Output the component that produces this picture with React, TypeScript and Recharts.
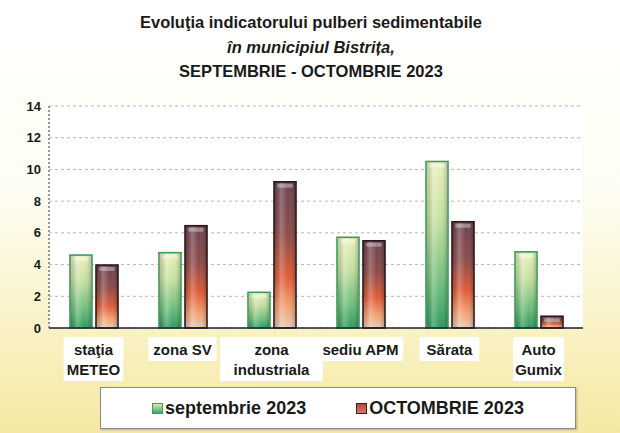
import { BarChart, Bar, XAxis, YAxis, CartesianGrid } from "recharts";

const categories = ["staţia\nMETEO", "zona SV", "zona\nindustriala", "sediu APM", "Sărata", "Auto\nGumix"];
const septembrie = [4.6, 4.75, 2.25, 5.72, 10.5, 4.8];
const octombrie = [3.97, 6.45, 9.22, 5.5, 6.7, 0.74];
const yTicks = [0, 2, 4, 6, 8, 10, 12, 14];
const seriesNames = ["septembrie 2023", "OCTOMBRIE 2023"];
const titleLines = [
  "Evoluţia indicatorului pulberi sedimentabile",
  "în municipiul Bistrița,",
  "SEPTEMBRIE - OCTOMBRIE 2023",
];

const data = categories.map((name, i) => ({ name, sep: septembrie[i], oct: octombrie[i] }));

const FONT = "'Liberation Sans', Arial, sans-serif";

function GlassBar(props: any) {
  const { x, y, width, height, gradId, stroke } = props;
  if (!height || height <= 0) return null;
  return (
    <g>
      <rect x={x} y={y} width={width} height={height} fill={`url(#${gradId})`} stroke={stroke} strokeWidth={1.6} />
      <rect x={x + 1} y={y + 1} width={Math.max(width - 2, 0)} height={Math.max(height - 2, 0)} fill="url(#shine)" />
      {height > 8 && (
        <rect x={x + 3} y={y + 2} width={width - 6} height={4} rx={2} fill="#ffffff" opacity={0.35} />
      )}
    </g>
  );
}

function CategoryTick(props: any) {
  const { x, y, payload } = props;
  const lines = String(payload.value).split("\n");
  const w = Math.max(...lines.map((l) => l.length)) * 8.6 + 8;
  const h = lines.length * 20 + 4;
  return (
    <g>
      <rect x={x - w / 2} y={y + 1} width={w} height={h} fill="#ffffff" />
      {lines.map((l, i) => (
        <text
          key={i}
          x={x}
          y={y + 19 + i * 20}
          textAnchor="middle"
          fontFamily={FONT}
          fontWeight="bold"
          fontSize={15}
          fill="#1a1a1a"
        >
          {l}
        </text>
      ))}
    </g>
  );
}

export default function App() {
  return (
    <div
      style={{
        position: "fixed",
        left: 0,
        top: 0,
        width: 620,
        height: 433,
        background: "linear-gradient(to bottom, #ffffff 0%, #fefdf2 45%, #f5e9a2 100%)",
        fontFamily: FONT,
        overflow: "hidden",
      }}
    >
      <div
        style={{
          position: "absolute",
          left: 0,
          top: 10,
          width: 622,
          textAlign: "center",
          fontWeight: "bold",
          fontSize: 16.5,
          lineHeight: "24.5px",
          color: "#1a1a1a",
        }}
      >
        <div>{titleLines[0]}</div>
        <div style={{ fontStyle: "italic" }}>{titleLines[1]}</div>
        <div>{titleLines[2]}</div>
      </div>

      <div style={{ position: "absolute", left: 0, top: 0 }}>
        <BarChart
          width={620}
          height={433}
          data={data}
          margin={{ top: 106, right: 37, left: 9, bottom: 5 }}
          barSize={22}
          barGap={4}
        >
          <defs>
            <linearGradient id="gSep" x1="0" y1="0" x2="0" y2="1">
              <stop offset="0%" stopColor="#eaf1bd" />
              <stop offset="35%" stopColor="#c6e0a0" />
              <stop offset="75%" stopColor="#6cbd7c" />
              <stop offset="100%" stopColor="#2f9a5e" />
            </linearGradient>
            <linearGradient id="gOct" x1="0" y1="0" x2="0" y2="1">
              <stop offset="0%" stopColor="#6a4452" />
              <stop offset="35%" stopColor="#8a4a48" />
              <stop offset="65%" stopColor="#df5a38" />
              <stop offset="85%" stopColor="#f3a070" />
              <stop offset="100%" stopColor="#e9c9b0" />
            </linearGradient>
            <linearGradient id="shine" x1="0" y1="0" x2="1" y2="0">
              <stop offset="0%" stopColor="#000000" stopOpacity={0.15} />
              <stop offset="30%" stopColor="#ffffff" stopOpacity={0.25} />
              <stop offset="65%" stopColor="#ffffff" stopOpacity={0} />
              <stop offset="100%" stopColor="#000000" stopOpacity={0.2} />
            </linearGradient>
          </defs>
          <CartesianGrid vertical={false} stroke="#b5b5b5" strokeDasharray="3 3" fill="#ffffff" />
          <XAxis
            dataKey="name"
            height={100}
            interval={0}
            tickLine={false}
            axisLine={{ stroke: "#222", strokeWidth: 1.5 }}
            tick={<CategoryTick />}
          />
          <YAxis
            width={40}
            domain={[0, 14]}
            ticks={yTicks}
            interval={0}
            tickLine={false}
            axisLine={{ stroke: "#333", strokeDasharray: "2 2" }}
            tick={{ fontFamily: FONT, fontWeight: "bold", fontSize: 13, fill: "#1a1a1a" }}
          />
          <Bar
            dataKey="sep"
            name={seriesNames[0]}
            isAnimationActive={false}
            shape={(p: any) => <GlassBar {...p} gradId="gSep" stroke="#3b9a5c" />}
          />
          <Bar
            dataKey="oct"
            name={seriesNames[1]}
            isAnimationActive={false}
            shape={(p: any) => <GlassBar {...p} gradId="gOct" stroke="#2a1818" />}
          />
        </BarChart>
      </div>

      <div
        style={{
          position: "absolute",
          left: 100,
          top: 387,
          width: 474,
          height: 40,
          background: "#ffffff",
          border: "1px solid #8a8a8a",
          boxShadow: "1px 1px 2px rgba(0,0,0,0.25)",
          display: "flex",
          alignItems: "center",
          justifyContent: "center",
          gap: 50,
          fontWeight: "bold",
          fontSize: 18,
          color: "#1a1a1a",
        }}
      >
        {seriesNames.map((n, i) => (
          <div key={n} style={{ display: "flex", alignItems: "center" }}>
            <span
              style={{
                display: "inline-block",
                width: 9,
                height: 9,
                marginRight: 2,
                background: i === 0 ? "linear-gradient(#d8ecb0, #3fa464)" : "linear-gradient(#b04a40, #e07a60)",
                border: i === 0 ? "1px solid #3b9a5c" : "1px solid #3a2020",
              }}
            />
            {n}
          </div>
        ))}
      </div>
    </div>
  );
}
